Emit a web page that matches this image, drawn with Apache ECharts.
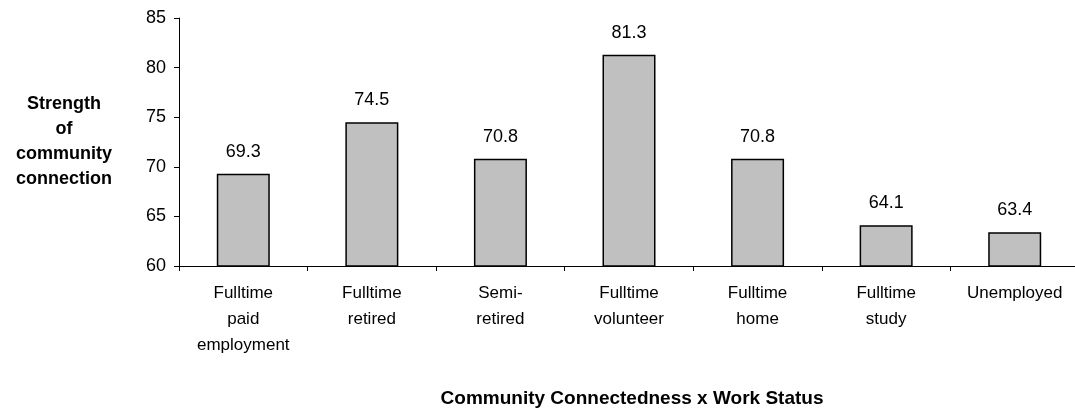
<!DOCTYPE html>
<html>
<head>
<meta charset="utf-8">
<script src="https://cdn.jsdelivr.net/npm/echarts@6/dist/echarts.min.js"></script>
<style>
  html, body { margin: 0; padding: 0; background: #fff; }
  #chart { width: 1075px; height: 410px; }
</style>
</head>
<body>
<div id="chart"></div>
<script>
var categories = ['Fulltime\npaid\nemployment', 'Fulltime\nretired', 'Semi-\nretired', 'Fulltime\nvolunteer', 'Fulltime\nhome', 'Fulltime\nstudy', 'Unemployed'];
var values = [69.3, 74.5, 70.8, 81.3, 70.8, 64.1, 63.4];

var myChart = echarts.init(document.getElementById('chart'));
var font = 'Liberation Sans, Arial, sans-serif';

myChart.setOption({
    animation: false,
    textStyle: { fontFamily: font },
    title: {
        text: 'Community Connectedness x Work Status',
        left: 627,
        textAlign: 'center',
        top: 384,
        textStyle: { fontFamily: font, fontSize: 19, fontWeight: 'bold', color: '#000' }
    },
    grid: { left: 179, right: -4, top: 18, bottom: 144, outerBoundsMode: 'none' },
    xAxis: {
        type: 'category',
        data: categories,
        axisLine: { lineStyle: { color: '#000', width: 1 } },
        axisTick: { show: true, length: 5, lineStyle: { color: '#000' } },
        axisLabel: { color: '#000', fontSize: 17, lineHeight: 26, margin: 14, interval: 0, fontFamily: font }
    },
    yAxis: {
        type: 'value',
        min: 60,
        max: 85,
        interval: 5,
        name: 'Strength\nof\ncommunity\nconnection',
        nameLocation: 'middle',
        nameRotate: 0,
        nameGap: 115,
        nameTextStyle: { color: '#000', fontSize: 18, fontWeight: 'bold', lineHeight: 25, align: 'center', fontFamily: font },
        axisLine: { show: true, lineStyle: { color: '#000', width: 1 } },
        axisTick: { show: true, length: 5, lineStyle: { color: '#000' } },
        axisLabel: { color: '#000', fontSize: 18, margin: 13, fontFamily: font },
        splitLine: { show: false }
    },
    series: [{
        type: 'bar',
        data: values,
        barWidth: 53,
        itemStyle: { color: '#C0C0C0', borderColor: '#000', borderWidth: 1.5 },
        label: {
            show: true,
            position: 'top',
            distance: 13,
            color: '#000',
            fontSize: 18,
            fontFamily: font,
            formatter: function (p) { return p.value.toFixed(1); }
        }
    }]
});
</script>
</body>
</html>
